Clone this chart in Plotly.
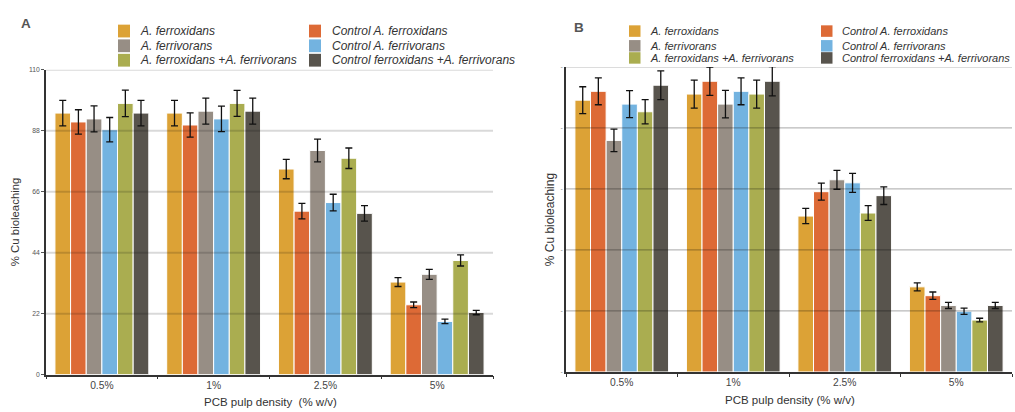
import plotly.graph_objects as go

categories = ["0.5%", "1%", "2.5%", "5%"]
series_names = [
    "A. ferroxidans",
    "Control A. ferroxidans",
    "A. ferrivorans",
    "Control A. ferrivorans",
    "A. ferroxidans +A. ferrivorans",
    "Control ferroxidans +A. ferrivorans",
]
colors = ["#dca236", "#dd6a36", "#978e85", "#73b3e0", "#aaad50", "#58544d"]

# Panel A values and error bars
a_fx = [94.4, 94.4, 74.2, 33.4]
a_cfx = [91.2, 90.1, 59.0, 25.2]
a_fv = [92.3, 95.1, 80.9, 36.2]
a_cfv = [88.4, 92.3, 62.1, 19.2]
a_mix = [97.9, 97.9, 78.1, 41.2]
a_cmix = [94.4, 95.1, 58.2, 22.4]
a_fx_err = [4.6, 4.6, 3.5, 1.6]
a_cfx_err = [4.4, 4.4, 2.8, 1.0]
a_fv_err = [4.7, 4.7, 4.1, 1.8]
a_cfv_err = [4.4, 4.6, 3.0, 0.8]
a_mix_err = [4.8, 4.7, 3.7, 2.0]
a_cmix_err = [4.6, 4.7, 2.8, 0.8]

# Panel B values and error bars (axis unlabeled in the original)
b_fx = [89.1, 91.1, 51.1, 27.9]
b_cfx = [92.0, 95.3, 59.1, 25.0]
b_fv = [75.9, 87.8, 63.0, 21.8]
b_cfv = [87.8, 92.0, 62.0, 19.9]
b_mix = [85.3, 91.1, 52.1, 17.0]
b_cmix = [94.0, 95.3, 57.8, 21.8]
b_fx_err = [4.4, 4.6, 2.5, 1.3]
b_cfx_err = [4.4, 4.6, 2.8, 1.2]
b_fv_err = [3.7, 4.5, 3.1, 1.0]
b_cfv_err = [4.4, 4.4, 3.1, 1.0]
b_mix_err = [4.0, 4.6, 2.4, 0.6]
b_cmix_err = [4.7, 4.8, 2.9, 1.0]

a_ticks = [0, 22, 44, 66, 88, 110]
b_ticks = [0, 20, 40, 60, 80, 100]

W, H = 1015, 412
FONT = "Liberation Sans, Arial, Helvetica, sans-serif"

def px_x(p):
    return p / W

def px_y(p):
    return 1 - p / H

fig = go.Figure()

a_vals = [a_fx, a_cfx, a_fv, a_cfv, a_mix, a_cmix]
a_errs = [a_fx_err, a_cfx_err, a_fv_err, a_cfv_err, a_mix_err, a_cmix_err]
b_vals = [b_fx, b_cfx, b_fv, b_cfv, b_mix, b_cmix]
b_errs = [b_fx_err, b_cfx_err, b_fv_err, b_cfv_err, b_mix_err, b_cmix_err]

for name, col, v, e in zip(series_names, colors, a_vals, a_errs):
    fig.add_trace(go.Bar(
        x=categories, y=v, name=name, xaxis="x", yaxis="y", showlegend=False,
        marker=dict(color=col, line=dict(color="white", width=1)),
        error_y=dict(type="data", array=e, color="#111111", thickness=1.3, width=3.5),
    ))
for name, col, v, e in zip(series_names, colors, b_vals, b_errs):
    fig.add_trace(go.Bar(
        x=categories, y=v, name=name, xaxis="x2", yaxis="y2", showlegend=False,
        marker=dict(color=col, line=dict(color="white", width=1)),
        error_y=dict(type="data", array=e, color="#111111", thickness=1.3, width=3.5),
    ))

xa_dom = [px_x(46), px_x(493)]
xb_dom = [px_x(566), px_x(1012)]
ya_dom = [px_y(377), px_y(67)]
yb_dom = [px_y(374.3), px_y(64)]

common_x = dict(
    type="category", showgrid=False, showline=True, linecolor="#333333", linewidth=1.5,
    ticks="outside", tickson="boundaries", ticklen=3, tickcolor="#333333",
    tickfont=dict(family=FONT, size=10.3, color="#444444"), zeroline=False,
)

fig.update_layout(
    width=W, height=H,
    margin=dict(l=0, r=0, t=0, b=0, pad=0),
    paper_bgcolor="white", plot_bgcolor="white",
    barmode="group", bargap=0.16, bargroupgap=0.0,
    font=dict(family=FONT, color="#333333"),
    xaxis=dict(domain=xa_dom, anchor="y", **common_x),
    xaxis2=dict(domain=xb_dom, anchor="y2", **common_x),
    yaxis=dict(
        domain=ya_dom, anchor="x", range=[0, 110], tickvals=a_ticks,
        showgrid=False, zeroline=False, showline=True, linecolor="#333333", linewidth=1.5,
        ticks="outside", ticklen=3, tickcolor="#555555",
        tickfont=dict(family=FONT, size=6.8, color="#555555"),
    ),
    yaxis2=dict(
        domain=yb_dom, anchor="x2", range=[0, 100], tickvals=b_ticks,
        ticktext=["-"] * len(b_ticks),
        showgrid=False, zeroline=False, showline=True, linecolor="#333333", linewidth=1.5,
        ticks="", tickfont=dict(family=FONT, size=7, color="#888888"),
    ),
)

shapes = []
# gridlines drawn above bars (as in the original, they show through)
for t in a_ticks[1:]:
    shapes.append(dict(type="line", xref="x domain", yref="y", x0=0, x1=1, y0=t, y1=t,
                       line=dict(color="rgba(0,0,0,0.15)", width=2), layer="above"))
for t in b_ticks[1:]:
    shapes.append(dict(type="line", xref="x2 domain", yref="y2", x0=0, x1=1, y0=t, y1=t,
                       line=dict(color="rgba(0,0,0,0.28)", width=1.3), layer="above"))

annotations = []

def note(x, y, text, size, color="#333333", angle=0, xanchor="center"):
    annotations.append(dict(xref="paper", yref="paper", x=px_x(x), y=px_y(y),
                            xanchor=xanchor, yanchor="middle", text=text, textangle=angle,
                            showarrow=False, font=dict(family=FONT, size=size, color=color)))

def add_legend(sq_x, txt_x, row_tops, sq_w, sq_h, fsize):
    for i, (name, col) in enumerate(zip(series_names, colors)):
        c, r = i % 2, i // 2
        top = row_tops[r]
        shapes.append(dict(type="rect", xref="paper", yref="paper",
                           x0=px_x(sq_x[c]), x1=px_x(sq_x[c] + sq_w),
                           y0=px_y(top + sq_h), y1=px_y(top),
                           fillcolor=col, line=dict(width=0)))
        note(txt_x[c], top + sq_h / 2, "<i>%s</i>" % name, fsize, xanchor="left")

add_legend([118, 309], [138, 330], [21, 36, 50.7], 12, 13, 12)
add_legend([629, 821], [648, 840], [21.7, 36.7, 49], 11.5, 11.7, 11.0)

# panel letters
note(26, 19.5, "<b>A</b>", 13.5, color="#555555")
note(578.5, 23.5, "<b>B</b>", 13.5, color="#555555")
# axis titles
note(15, 222, "% Cu bioleaching", 11.4, angle=-90)
note(550, 220, "% Cu bioleaching", 12, angle=-90)
note(270, 405, "PCB pulp density&nbsp; (% w/v)", 11.5)
note(790, 403, "PCB pulp density (% w/v)", 11.5)

fig.update_layout(shapes=shapes, annotations=annotations)

fig.write_html("out.html", config={"displayModeBar": False},
               post_script="document.body.style.margin='0';")
